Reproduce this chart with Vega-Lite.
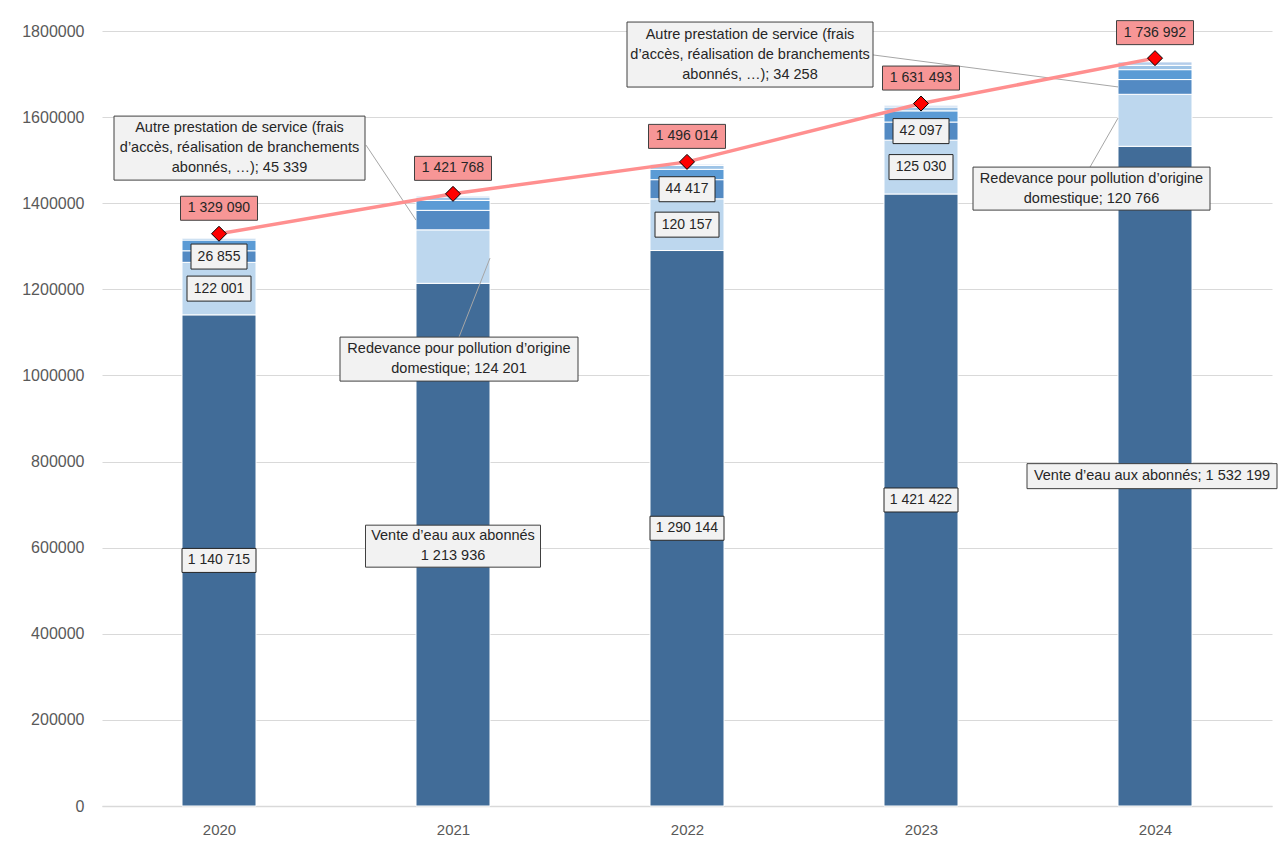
{
  "$schema": "https://vega.github.io/schema/vega-lite/v6.json",
  "width": 1170,
  "height": 775,
  "autosize": {"type": "none"},
  "padding": {"left": 102, "top": 31, "right": 10, "bottom": 41},
  "background": "white",
  "config": {
    "locale": {"number": {"decimal": ",", "thousands": " ", "grouping": [3], "currency": ["", " €"]}},
    "view": {"stroke": null},
    "font": "Liberation Sans",
    "text": {"font": "Liberation Sans", "fontSize": 14, "color": "#262626", "align": "center", "baseline": "middle"}
  },
  "datasets": {
    "seg": [
      {"year": 2020, "k": 1, "series": "Vente d’eau aux abonnés", "value": 1140715, "note": ""},
      {"year": 2020, "k": 2, "series": "Redevance pour pollution d’origine domestique", "value": 122001, "note": ""},
      {"year": 2020, "k": 3, "series": "Autre prestation de service (frais d’accès, réalisation de branchements abonnés, …)", "value": 26855, "note": ""},
      {"year": 2020, "k": 4, "series": "Autres produits", "value": 25000, "note": ""},
      {"year": 2020, "k": 5, "series": "Produits divers", "value": 4000, "note": ""},
      {"year": 2021, "k": 1, "series": "Vente d’eau aux abonnés", "value": 1213936, "note": "Vente d’eau aux abonnés\n1 213 936"},
      {"year": 2021, "k": 2, "series": "Redevance pour pollution d’origine domestique", "value": 124201, "note": "Redevance pour pollution d’origine\ndomestique; 124 201"},
      {"year": 2021, "k": 3, "series": "Autre prestation de service (frais d’accès, réalisation de branchements abonnés, …)", "value": 45339, "note": "Autre prestation de service (frais\nd’accès, réalisation de branchements\nabonnés, …); 45 339"},
      {"year": 2021, "k": 4, "series": "Autres produits", "value": 23000, "note": ""},
      {"year": 2021, "k": 5, "series": "Produits divers", "value": 8000, "note": ""},
      {"year": 2021, "k": 6, "series": "Recettes annexes", "value": 2500, "note": ""},
      {"year": 2022, "k": 1, "series": "Vente d’eau aux abonnés", "value": 1290144, "note": ""},
      {"year": 2022, "k": 2, "series": "Redevance pour pollution d’origine domestique", "value": 120157, "note": ""},
      {"year": 2022, "k": 3, "series": "Autre prestation de service (frais d’accès, réalisation de branchements abonnés, …)", "value": 44417, "note": ""},
      {"year": 2022, "k": 4, "series": "Autres produits", "value": 24000, "note": ""},
      {"year": 2022, "k": 5, "series": "Produits divers", "value": 9000, "note": ""},
      {"year": 2022, "k": 6, "series": "Recettes annexes", "value": 3000, "note": ""},
      {"year": 2023, "k": 1, "series": "Vente d’eau aux abonnés", "value": 1421422, "note": ""},
      {"year": 2023, "k": 2, "series": "Redevance pour pollution d’origine domestique", "value": 125030, "note": ""},
      {"year": 2023, "k": 3, "series": "Autre prestation de service (frais d’accès, réalisation de branchements abonnés, …)", "value": 42097, "note": ""},
      {"year": 2023, "k": 4, "series": "Autres produits", "value": 26000, "note": ""},
      {"year": 2023, "k": 5, "series": "Produits divers", "value": 9000, "note": ""},
      {"year": 2023, "k": 6, "series": "Recettes annexes", "value": 4000, "note": ""},
      {"year": 2024, "k": 1, "series": "Vente d’eau aux abonnés", "value": 1532199, "note": "Vente d’eau aux abonnés; 1 532 199"},
      {"year": 2024, "k": 2, "series": "Redevance pour pollution d’origine domestique", "value": 120766, "note": "Redevance pour pollution d’origine\ndomestique; 120 766"},
      {"year": 2024, "k": 3, "series": "Autre prestation de service (frais d’accès, réalisation de branchements abonnés, …)", "value": 34258, "note": "Autre prestation de service (frais\nd’accès, réalisation de branchements\nabonnés, …); 34 258"},
      {"year": 2024, "k": 4, "series": "Autres produits", "value": 23000, "note": ""},
      {"year": 2024, "k": 5, "series": "Produits divers", "value": 10000, "note": ""},
      {"year": 2024, "k": 6, "series": "Recettes annexes", "value": 8000, "note": ""}
    ],
    "tot": [
      {"year": 2020, "total": 1329090},
      {"year": 2021, "total": 1421768},
      {"year": 2022, "total": 1496014},
      {"year": 2023, "total": 1631493},
      {"year": 2024, "total": 1736992}
    ]
  },
  "encoding": {
    "x": {
      "field": "year", "type": "quantitative",
      "scale": {"domain": [2019.5, 2024.5], "nice": false, "zero": false, "padding": 0},
      "axis": {"values": [2020, 2021, 2022, 2023, 2024], "format": "d", "title": null, "grid": false, "ticks": false, "domainColor": "#D9D9D9", "domainWidth": 1.5, "labelFontSize": 15, "labelColor": "#595959", "labelPadding": 16, "labelFlush": false, "labelFont": "Liberation Sans"}
    }
  },
  "layer": [
    {
      "data": {"name": "seg"},
      "transform": [
        {"stack": "value", "groupby": ["year"], "sort": [{"field": "k", "order": "ascending"}], "as": ["v0", "v1"]},
        {"calculate": "(datum.v0 + datum.v1) / 2", "as": "mid"}
      ],
      "layer": [
        {
          "mark": {"type": "bar", "width": 74, "stroke": "white", "strokeWidth": 1},
          "encoding": {
            "y": {"field": "v0", "type": "quantitative", "scale": {"domain": [0, 1800000], "nice": false},
              "axis": {"values": [0, 200000, 400000, 600000, 800000, 1000000, 1200000, 1400000, 1600000, 1800000], "format": "d", "title": null, "grid": true, "gridColor": "#D9D9D9", "domain": false, "ticks": false, "labelFontSize": 16, "labelColor": "#595959", "labelPadding": 18, "labelFont": "Liberation Sans"}},
            "y2": {"field": "v1"},
            "color": {"field": "series", "type": "nominal", "legend": null,
              "scale": {
                "domain": ["Vente d’eau aux abonnés", "Redevance pour pollution d’origine domestique", "Autre prestation de service (frais d’accès, réalisation de branchements abonnés, …)", "Autres produits", "Produits divers", "Recettes annexes"],
                "range": ["#416C98", "#BDD7EE", "#538AC3", "#5B9BD5", "#9DC3E6", "#B4CDEA"]
              }}
          }
        },
        {
          "transform": [{"filter": {"field": "year", "oneOf": [2020, 2022, 2023]}}, {"filter": {"field": "k", "lte": 3}}],
          "encoding": {
            "y": {"field": "mid", "type": "quantitative", "scale": {"domain": [0, 1800000], "nice": false}}
          },
          "layer": [
            {
              "transform": [{"filter": "datum.value < 100000"}],
              "mark": {"type": "point", "shape": "M-28,-12.5L28,-12.5L28,12.5L-28,12.5Z", "size": 4, "filled": true, "fill": "#F2F2F2", "stroke": "#262626", "strokeWidth": 1, "opacity": 1}
            },
            {
              "transform": [{"filter": "datum.value >= 100000 && datum.value < 1000000"}],
              "mark": {"type": "point", "shape": "M-32,-12.5L32,-12.5L32,12.5L-32,12.5Z", "size": 4, "filled": true, "fill": "#F2F2F2", "stroke": "#262626", "strokeWidth": 1, "opacity": 1}
            },
            {
              "transform": [{"filter": "datum.value >= 1000000"}],
              "mark": {"type": "point", "shape": "M-37,-12L37,-12L37,12L-37,12Z", "size": 4, "filled": true, "fill": "#F2F2F2", "stroke": "#262626", "strokeWidth": 1, "opacity": 1}
            },
            {
              "mark": {"type": "text"},
              "encoding": {"text": {"field": "value", "type": "quantitative", "format": ",d"}}
            }
          ]
        },
        {
          "transform": [{"filter": "datum.year == 2021 && datum.k == 3"}],
          "encoding": {"y": {"field": "mid", "type": "quantitative", "scale": {"domain": [0, 1800000], "nice": false}}},
          "layer": [
            {"mark": {"type": "rule", "color": "#A6A6A6", "strokeWidth": 1, "xOffset": -87, "yOffset": -75, "x2Offset": -37, "y2Offset": 0}, "encoding": {"x2": {"field": "year"}, "y2": {"field": "mid"}}},
            {"mark": {"type": "point", "shape": "M-125.5,-32L125.5,-32L125.5,32L-125.5,32Z", "size": 4, "filled": true, "fill": "#F2F2F2", "stroke": "#404040", "strokeWidth": 1, "opacity": 1, "xOffset": -213.5, "yOffset": -72}},
            {"mark": {"type": "text", "fontSize": 14.5, "lineBreak": "\n", "lineHeight": 20, "xOffset": -213.5, "yOffset": -92}, "encoding": {"text": {"field": "note"}}}
          ]
        },
        {
          "transform": [{"filter": "datum.year == 2021 && datum.k == 2"}],
          "encoding": {"y": {"field": "mid", "type": "quantitative", "scale": {"domain": [0, 1800000], "nice": false}}},
          "layer": [
            {"mark": {"type": "rule", "color": "#A6A6A6", "strokeWidth": 1, "xOffset": 6, "yOffset": 80.5, "x2Offset": 37, "y2Offset": 1.5}, "encoding": {"x2": {"field": "year"}, "y2": {"field": "mid"}}},
            {"mark": {"type": "point", "shape": "M-119,-22L119,-22L119,22L-119,22Z", "size": 4, "filled": true, "fill": "#F2F2F2", "stroke": "#404040", "strokeWidth": 1, "opacity": 1, "xOffset": 6, "yOffset": 102.5}},
            {"mark": {"type": "text", "fontSize": 14.5, "lineBreak": "\n", "lineHeight": 20, "xOffset": 6, "yOffset": 92.5}, "encoding": {"text": {"field": "note"}}}
          ]
        },
        {
          "transform": [{"filter": "datum.year == 2021 && datum.k == 1"}],
          "encoding": {"y": {"field": "mid", "type": "quantitative", "scale": {"domain": [0, 1800000], "nice": false}}},
          "layer": [
            {"mark": {"type": "point", "shape": "M-87.5,-21L87.5,-21L87.5,21L-87.5,21Z", "size": 4, "filled": true, "fill": "#F2F2F2", "stroke": "#404040", "strokeWidth": 1, "opacity": 1, "xOffset": 0, "yOffset": 1.5}},
            {"mark": {"type": "text", "fontSize": 14.5, "lineBreak": "\n", "lineHeight": 20, "xOffset": 0, "yOffset": -8.5}, "encoding": {"text": {"field": "note"}}}
          ]
        },
        {
          "transform": [{"filter": "datum.year == 2024 && datum.k == 3"}],
          "encoding": {"y": {"field": "mid", "type": "quantitative", "scale": {"domain": [0, 1800000], "nice": false}}},
          "layer": [
            {"mark": {"type": "rule", "color": "#A6A6A6", "strokeWidth": 1, "xOffset": -282, "yOffset": -32, "x2Offset": -37, "y2Offset": 0}, "encoding": {"x2": {"field": "year"}, "y2": {"field": "mid"}}},
            {"mark": {"type": "point", "shape": "M-123,-32.5L123,-32.5L123,32.5L-123,32.5Z", "size": 4, "filled": true, "fill": "#F2F2F2", "stroke": "#404040", "strokeWidth": 1, "opacity": 1, "xOffset": -405, "yOffset": -32.4}},
            {"mark": {"type": "text", "fontSize": 14.5, "lineBreak": "\n", "lineHeight": 20, "xOffset": -405, "yOffset": -52.4}, "encoding": {"text": {"field": "note"}}}
          ]
        },
        {
          "transform": [{"filter": "datum.year == 2024 && datum.k == 2"}],
          "encoding": {"y": {"field": "mid", "type": "quantitative", "scale": {"domain": [0, 1800000], "nice": false}}},
          "layer": [
            {"mark": {"type": "rule", "color": "#A6A6A6", "strokeWidth": 1, "xOffset": -65, "yOffset": 46.8, "x2Offset": -37, "y2Offset": -2.2}, "encoding": {"x2": {"field": "year"}, "y2": {"field": "mid"}}},
            {"mark": {"type": "point", "shape": "M-118.5,-21.5L118.5,-21.5L118.5,21.5L-118.5,21.5Z", "size": 4, "filled": true, "fill": "#F2F2F2", "stroke": "#404040", "strokeWidth": 1, "opacity": 1, "xOffset": -63.5, "yOffset": 68.3}},
            {"mark": {"type": "text", "fontSize": 14.5, "lineBreak": "\n", "lineHeight": 20, "xOffset": -63.5, "yOffset": 58.3}, "encoding": {"text": {"field": "note"}}}
          ]
        },
        {
          "transform": [{"filter": "datum.year == 2024 && datum.k == 1"}],
          "encoding": {"y": {"field": "mid", "type": "quantitative", "scale": {"domain": [0, 1800000], "nice": false}}},
          "layer": [
            {"mark": {"type": "point", "shape": "M-125,-12.5L125,-12.5L125,12.5L-125,12.5Z", "size": 4, "filled": true, "fill": "#F2F2F2", "stroke": "#404040", "strokeWidth": 1, "opacity": 1, "xOffset": -3, "yOffset": 0}},
            {"mark": {"type": "text", "fontSize": 14.5, "lineBreak": "\n", "lineHeight": 20, "xOffset": -3, "yOffset": 0}, "encoding": {"text": {"field": "note"}}}
          ]
        }
      ]
    },
    {
      "data": {"name": "tot"},
      "encoding": {
        "y": {"field": "total", "type": "quantitative", "scale": {"domain": [0, 1800000], "nice": false}}
      },
      "layer": [
        {"mark": {"type": "line", "color": "#FF8F8F", "strokeWidth": 3.5}},
        {"mark": {"type": "point", "shape": "diamond", "size": 225, "filled": true, "fill": "#FF0000", "stroke": "#000000", "strokeWidth": 1, "opacity": 1}},
        {"mark": {"type": "point", "shape": "M-38.5,-12L38.5,-12L38.5,12L-38.5,12Z", "size": 4, "filled": true, "fill": "#F79696", "stroke": "#404040", "strokeWidth": 1, "opacity": 1, "yOffset": -25.5}},
        {"mark": {"type": "text", "yOffset": -25.5}, "encoding": {"text": {"field": "total", "type": "quantitative", "format": ",d"}}}
      ]
    }
  ]
}
